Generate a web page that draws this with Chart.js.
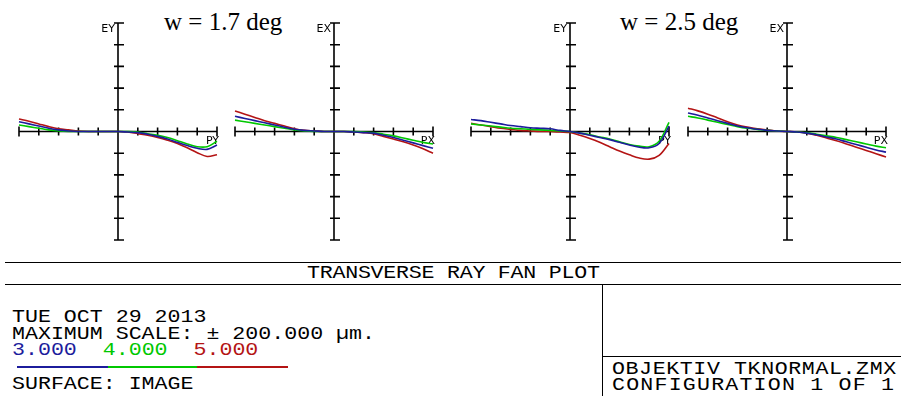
<!DOCTYPE html>
<html>
<head>
<meta charset="utf-8">
<script src="https://cdn.jsdelivr.net/npm/chart.js@4.4.0/dist/chart.umd.min.js"></script>
<style>
  body { margin: 0; background: #fff; }
  #page { position: relative; width: 901px; height: 396px; overflow: hidden; background: #fff; }
  canvas { position: absolute; }
  .title { position: absolute; font-family: 'Liberation Serif', serif; font-size: 25px; line-height: 25px; white-space: pre; color: #000; }
  .txt { position: absolute; font-family: 'Liberation Mono', monospace; font-size: 18px; line-height: 18px; white-space: pre; color: #000;
         letter-spacing: 0px; transform: scaleX(1.2); transform-origin: 0 0; }
  .hl { position: absolute; height: 1px; background: #000; }
  .vl { position: absolute; width: 1px; background: #000; }
</style>
</head>
<body>
<div id="page">
  <div class="title" style="left:164px; top:9px;">w = 1.7 deg</div>
  <div class="title" style="left:620px; top:9px;">w = 2.5 deg</div>

  <div class="hl" style="left:5px; top:262px; width:896px;"></div>
  <div class="txt" style="left:307px; top:264px; letter-spacing:-0.2px;">TRANSVERSE RAY FAN PLOT</div>
  <div class="hl" style="left:5px; top:284px; width:896px;"></div>
  <div class="vl" style="left:602px; top:284px; height:112px;"></div>
  <div class="hl" style="left:602px; top:356px; width:299px;"></div>

  <div class="txt" style="left:12px; top:308px;">TUE OCT 29 2013</div>
  <div class="txt" style="left:12px; top:325px;">MAXIMUM SCALE: ± 200.000 µm.</div>
  <div class="txt" style="left:12px; top:341px;"><span style="color:#1c1c9c">3.000</span>  <span style="color:#00c800">4.000</span>  <span style="color:#b41414">5.000</span></div>
  <div class="hl" style="left:17px; top:366px; width:91px; height:2px; background:#1c1c9c;"></div>
  <div class="hl" style="left:108px; top:366px; width:89px; height:2px; background:#00c800;"></div>
  <div class="hl" style="left:197px; top:366px; width:91px; height:2px; background:#b41414;"></div>
  <div class="txt" style="left:12px; top:375px;">SURFACE: IMAGE</div>

  <div class="txt" style="left:612px; top:360px; letter-spacing:0.5px;">OBJEKTIV TKNORMAL.ZMX</div>
  <div class="txt" style="left:612px; top:376px; letter-spacing:1.0px;">CONFIGURATION 1 OF 1</div>

  <canvas id="c1"></canvas>
  <canvas id="c2"></canvas>
  <canvas id="c3"></canvas>
  <canvas id="c4"></canvas>
</div>

<script>
// relative pupil coordinate
const pupil = [-1, -0.9, -0.8, -0.7, -0.6, -0.5, -0.4, -0.3, -0.2, -0.1, 0, 0.1, 0.2, 0.3, 0.4, 0.5, 0.6, 0.7, 0.8, 0.9, 1];
const pupilTicks = [-1, -0.8, -0.6, -0.4, -0.2, 0, 0.2, 0.4, 0.6, 0.8, 1];
const errTicks = [-200, -160, -120, -80, -40, 0, 40, 80, 120, 160, 200]; // µm
const waveNames = ['3.000', '4.000', '5.000'];
const waveColors = ['#1c1c9c', '#00c800', '#b41414'];

// w = 1.7 deg, tangential (EY vs PY)
const ey17_w3 = [18, 14, 10, 6, 3, 1, 0, 0, 0, 0, 0, -1, -2, -5, -9, -14, -20, -26, -31, -33, -25];
const ey17_w4 = [12, 9, 6, 3, 1, 0, 0, 0, 0, 0, 0, 0, -1, -4, -7, -11, -17, -23, -28, -28, -18];
const ey17_w5 = [23, 19, 14, 9, 5, 3, 1, 0, 0, 0, 0, -1, -4, -7, -11, -16, -22, -30, -39, -46, -43];
// w = 1.7 deg, sagittal (EX vs PX)
const ex17_w3 = [28, 24, 20, 16, 12, 8, 4, 2, 1, 0, 0, 0, -1, -2, -3, -7, -11, -16, -21, -26, -31];
const ex17_w4 = [21, 18, 15, 12, 9, 6, 3, 1, 0, 0, 0, 0, 0, -1, -2, -5, -8, -12, -16, -20, -23];
const ex17_w5 = [38, 32, 26, 20, 15, 10, 5, 2, 1, 0, 0, 0, -1, -2, -4, -9, -14, -19, -25, -32, -40];
// w = 2.5 deg, tangential
const ey25_w3 = [22, 20, 17, 14, 11, 9, 7, 6, 5, 2, 0, -3, -7, -11, -15, -20, -25, -29, -30, -22, 10];
const ey25_w4 = [14, 12, 10, 8, 6, 5, 4, 3, 2, 1, 0, -3, -6, -10, -14, -19, -24, -27, -28, -18, 17];
const ey25_w5 = [15, 12, 9, 6, 4, 2, 1, 0, 0, -1, -2, -7, -13, -20, -28, -36, -43, -49, -51, -44, -22];
// w = 2.5 deg, sagittal
const ex25_w3 = [34, 30, 25, 20, 15, 10, 7, 4, 2, 1, 0, -1, -3, -6, -10, -14, -19, -24, -29, -34, -38];
const ex25_w4 = [28, 25, 21, 17, 13, 9, 6, 4, 2, 1, 0, -1, -2, -5, -8, -11, -15, -19, -23, -27, -30];
const ex25_w5 = [43, 38, 32, 25, 18, 12, 8, 5, 3, 1, 0, -1, -3, -7, -12, -17, -23, -29, -35, -41, -47];

const PAD = 12;

const fanAxes = {
  id: 'fanAxes',
  beforeDatasetsDraw(chart, args, opts) {
    const ctx = chart.ctx;
    const xs = chart.scales.x, ys = chart.scales.y;
    const x0 = xs.getPixelForValue(0), y0 = ys.getPixelForValue(0);
    ctx.save();
    ctx.strokeStyle = '#000';
    ctx.lineWidth = 1.6;
    ctx.beginPath();
    ctx.moveTo(xs.getPixelForValue(-1), y0);
    ctx.lineTo(xs.getPixelForValue(1), y0);
    ctx.moveTo(x0, ys.getPixelForValue(200));
    ctx.lineTo(x0, ys.getPixelForValue(-200));
    pupilTicks.forEach(v => {
      const px = xs.getPixelForValue(v);
      const h = (v === -1 || v === 1) ? 5 : 4;
      ctx.moveTo(px, y0 - h);
      ctx.lineTo(px, y0 + h);
    });
    errTicks.forEach(v => {
      if (v === 0) return;
      const py = ys.getPixelForValue(v);
      ctx.moveTo(x0 - 4, py);
      ctx.lineTo(x0 + 6, py);
    });
    ctx.stroke();
    ctx.fillStyle = '#000';
    ctx.font = '11px "DejaVu Sans"';
    ctx.textAlign = 'right';
    ctx.textBaseline = 'top';
    ctx.fillText(opts.yLabel, x0 - 3, ys.getPixelForValue(200) + 1);
    ctx.fillText(opts.xLabel, xs.getPixelForValue(1) + 2, y0 + 4);
    ctx.restore();
  }
};

function makeFan(id, cx, series, xLabel, yLabel) {
  const canvas = document.getElementById(id);
  canvas.width = 198 + PAD * 2;
  canvas.height = 217 + PAD * 2;
  canvas.style.left = (cx - 99 - PAD) + 'px';
  canvas.style.top = (23 - PAD) + 'px';
  new Chart(canvas, {
    type: 'line',
    data: {
      datasets: series.map((vals, i) => ({
        label: waveNames[i],
        data: pupil.map((p, j) => ({ x: p, y: vals[j] })),
        borderColor: waveColors[i],
        borderWidth: 1.6,
        pointRadius: 0,
        tension: 0.35,
        fill: false,
        clip: false
      }))
    },
    options: {
      responsive: false,
      animation: false,
      layout: { padding: PAD },
      plugins: {
        legend: { display: false },
        tooltip: { enabled: false },
        fanAxes: { xLabel, yLabel }
      },
      scales: {
        x: { type: 'linear', min: -1, max: 1, display: false },
        y: { type: 'linear', min: -200, max: 200, display: false }
      }
    },
    plugins: [fanAxes]
  });
}

makeFan('c1', 118, [ey17_w3, ey17_w4, ey17_w5], 'PY', 'EY');
makeFan('c2', 334, [ex17_w3, ex17_w4, ex17_w5], 'PX', 'EX');
makeFan('c3', 570, [ey25_w3, ey25_w4, ey25_w5], 'PY', 'EY');
makeFan('c4', 787, [ex25_w3, ex25_w4, ex25_w5], 'PX', 'EX');
</script>
</body>
</html>
